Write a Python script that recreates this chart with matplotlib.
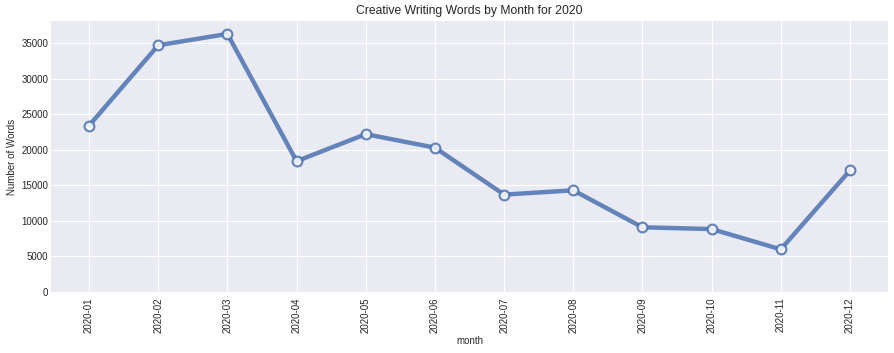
import matplotlib
matplotlib.use("Agg")
import matplotlib.pyplot as plt

months = ["2020-01", "2020-02", "2020-03", "2020-04", "2020-05", "2020-06",
          "2020-07", "2020-08", "2020-09", "2020-10", "2020-11", "2020-12"]
words = [23400, 34700, 36300, 18400, 22200, 20300,
         13700, 14300, 9100, 8850, 6000, 17100]

plt.style.use("seaborn-v0_8-darkgrid")
plt.rcParams["font.family"] = ["Liberation Sans", "DejaVu Sans"]
fig = plt.figure(figsize=(8.95, 3.53), dpi=100)
ax = fig.add_axes([51/895, 1 - 292/353, (888-51)/895, (292-21)/353])
ax.plot(months, words, color="#4C72B0", alpha=0.85, linewidth=3.2,
        marker="o", markersize=7, markerfacecolor="white",
        markeredgecolor="#4C72B0", markeredgewidth=1.6)
ax.set_ylim(0, max(words) * 1.05)
ax.set_title("Creative Writing Words by Month for 2020", fontsize=8.7, pad=5)
ax.set_xlabel("month", fontsize=7, labelpad=2)
ax.set_ylabel("Number of Words", fontsize=7, labelpad=3)
ax.tick_params(axis="x", labelrotation=90, labelsize=7, pad=4)
ax.tick_params(axis="y", labelsize=7, pad=2)
fig.savefig("out.png", dpi=100)
